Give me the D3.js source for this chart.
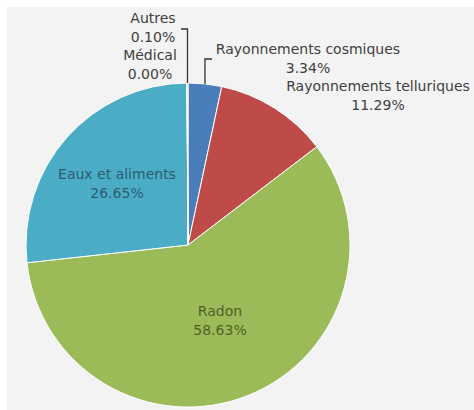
<!DOCTYPE html>
<html><head><meta charset="utf-8">
<script src="https://cdn.jsdelivr.net/npm/d3@7"></script>
<style>html,body{margin:0;padding:0;background:#fff;}svg{display:block;}</style>
</head><body>
<script>
const categories = ["Rayonnements cosmiques","Rayonnements telluriques","Radon","Eaux et aliments","Médical","Autres"];
const values = [3.34, 11.29, 58.63, 26.65, 0.00, 0.10];
const colors = ["#4a7ebb","#be4b48","#9bbb59","#4bacc6","#f79646","#d9e3ef"];

const W = 474, H = 410;
const svg = d3.select("body").append("svg").attr("width", W).attr("height", H);
svg.append("rect").attr("x",7).attr("y",7).attr("width",W-7).attr("height",H-7).attr("fill","#f3f3f3");

const cx = 188, cy = 245, R = 162;
const pie = d3.pie().sort(null).value(d => d)(values);
const arc = d3.arc().innerRadius(0).outerRadius(R);
const g = svg.append("g").attr("transform", `translate(${cx},${cy})`);
g.selectAll("path").data(pie).join("path")
  .attr("d", arc).attr("fill", (d,i)=>colors[i])
  .attr("stroke","#fff").attr("stroke-width",1);

const fmt = v => v.toFixed(2) + "%";
const font = "Verdana, 'DejaVu Sans', sans-serif";
const fs = 14;

function label(lines, x, y, color, anchor="middle") {
  const t = svg.append("text").attr("font-family", font).attr("font-size", fs)
    .attr("fill", color).attr("text-anchor", anchor);
  lines.forEach((l,i)=> t.append("tspan").attr("x", x).attr("y", y + i*19).text(l));
}
// inside labels
label([categories[3], fmt(values[3])], 117, 179, "#2c5d70");
label([categories[2], fmt(values[2])], 220, 316, "#4f6228");
// outside labels
label([categories[5], fmt(values[5])], 153, 23, "#404040");
label([categories[4], fmt(values[4])], 150, 60, "#404040");
label([categories[0], fmt(values[0])], 308, 54, "#404040");
label([categories[1], fmt(values[1])], 378, 91, "#404040");

// leader lines from slice edges
function leader(i, pts) {
  const a = (pie[i].startAngle + pie[i].endAngle)/2;
  const px = cx + R*Math.sin(a), py = cy - R*Math.cos(a);
  svg.append("polyline").attr("points", [[px,py], ...pts].map(p=>p.join(",")).join(" "))
    .attr("fill","none").attr("stroke","#333").attr("stroke-width",1.3);
}
const a5 = (pie[5].startAngle + pie[5].endAngle)/2;
leader(5, [[cx + R*Math.sin(a5), 29],[181,29]]);
const a0 = (pie[0].startAngle + pie[0].endAngle)/2;
leader(0, [[cx + R*Math.sin(a0), 59],[212,59]]);
</script>
</body></html>
